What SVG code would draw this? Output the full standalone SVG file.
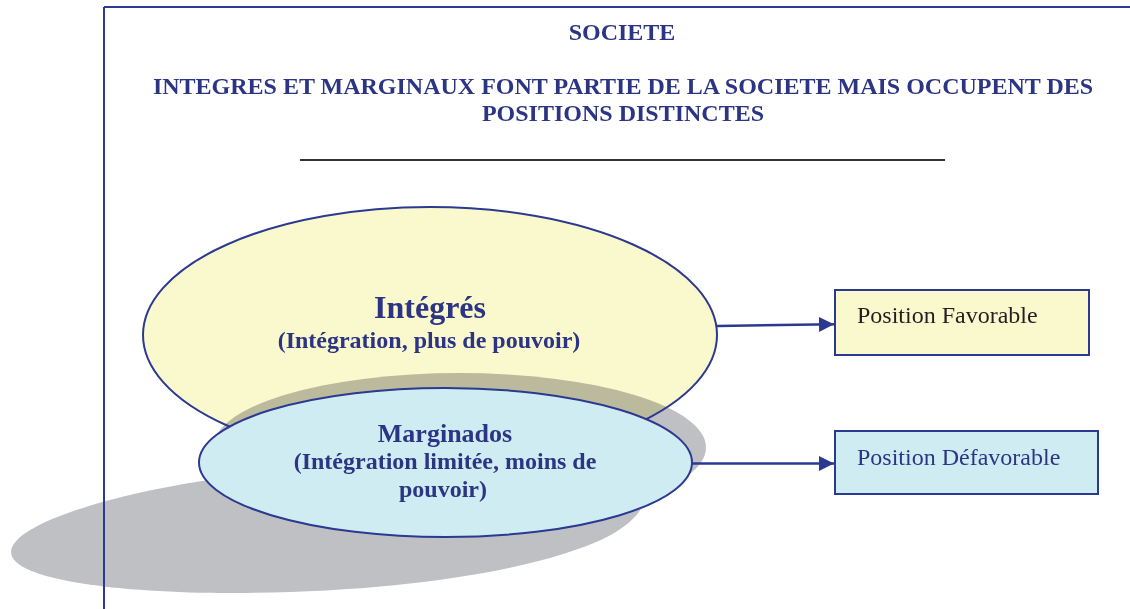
<svg xmlns="http://www.w3.org/2000/svg" width="1130" height="609" viewBox="0 0 1130 609">
  <style>
    .ttl { font-family: "Liberation Serif", "Times New Roman", serif; font-weight: bold; font-size: 24px; fill: #2b3583; text-anchor: middle; }
    .head { font-family: "Liberation Serif", "Times New Roman", serif; font-weight: bold; fill: #2b3583; text-anchor: middle; }
    .box { font-family: "Liberation Serif", "Times New Roman", serif; font-size: 24px; }
    .frame { stroke: #2e3a8f; stroke-width: 2; fill: none; }
    .outline { stroke: #2b3990; stroke-width: 2; }
    .shadow { fill: #bfc0c4; mix-blend-mode: multiply; }
    .conn { stroke: #2b3990; stroke-width: 2.5; fill: none; }
  </style>
  <defs>
    <marker id="arrow" viewBox="0 0 10 10" refX="10" refY="5" markerWidth="6" markerHeight="6" markerUnits="strokeWidth" orient="auto">
      <path d="M0,0 L10,5 L0,10 z" fill="#2b3990"/>
    </marker>
  </defs>
  <rect width="1130" height="609" fill="#ffffff"/>

  <!-- Intégrés fill (under shadow) -->
  <ellipse cx="430" cy="335" rx="287" ry="128" fill="#faf8cd"/>

  <!-- shadows -->
  <g id="shadows">
    <ellipse class="shadow" cx="459.5" cy="447.5" rx="246.5" ry="74.5"/>
    <path class="shadow" d="M215,479 C110,494 11,525 11,552 C11,580 120,593 230,593 C400,593 540,570 607,537 C630,525 645,510 645,495 Z"/>
  </g>

  <!-- frame -->
  <g id="frame">
    <line class="frame" x1="104" y1="7" x2="1130" y2="7"/>
    <line class="frame" x1="104" y1="7" x2="104" y2="609"/>
  </g>

  <!-- title -->
  <g id="title">
    <text class="ttl" x="622" y="40">SOCIETE</text>
    <text class="ttl" x="623" y="94">INTEGRES ET MARGINAUX FONT PARTIE DE LA SOCIETE MAIS OCCUPENT DES</text>
    <text class="ttl" x="623" y="121">POSITIONS DISTINCTES</text>
    <line x1="300" y1="160" x2="945" y2="160" stroke="#333333" stroke-width="2"/>
  </g>

  <!-- Intégrés node -->
  <g id="integres">
    <ellipse class="outline" cx="430" cy="335" rx="287" ry="128" fill="none"/>
    <text class="head" x="430" y="318" font-size="32">Intégrés</text>
    <text class="head" x="429" y="348" font-size="24">(Intégration, plus de pouvoir)</text>
  </g>

  <!-- Marginados node -->
  <g id="marginados">
    <ellipse class="outline" cx="445.5" cy="462.5" rx="246.5" ry="74.5" fill="#d0ecf3"/>
    <text class="head" x="445" y="442" font-size="26">Marginados</text>
    <text class="head" x="445" y="469" font-size="24">(Intégration limitée, moins de</text>
    <text class="head" x="443" y="497" font-size="24">pouvoir)</text>
  </g>

  <!-- connectors -->
  <g id="connectors">
    <line class="conn" x1="717" y1="326" x2="834" y2="324.3" marker-end="url(#arrow)"/>
    <line class="conn" x1="692" y1="463.5" x2="834" y2="463.5" marker-end="url(#arrow)"/>
  </g>

  <!-- boxes -->
  <g id="favorable">
    <rect class="outline" x="835" y="290" width="254" height="65" fill="#faf8cd"/>
    <text class="box" x="857" y="323" fill="#231f20">Position Favorable</text>
  </g>
  <g id="defavorable">
    <rect class="outline" x="835" y="431" width="263" height="63" fill="#d0ecf3"/>
    <text class="box" x="857" y="465" fill="#2b3583">Position Défavorable</text>
  </g>
</svg>
